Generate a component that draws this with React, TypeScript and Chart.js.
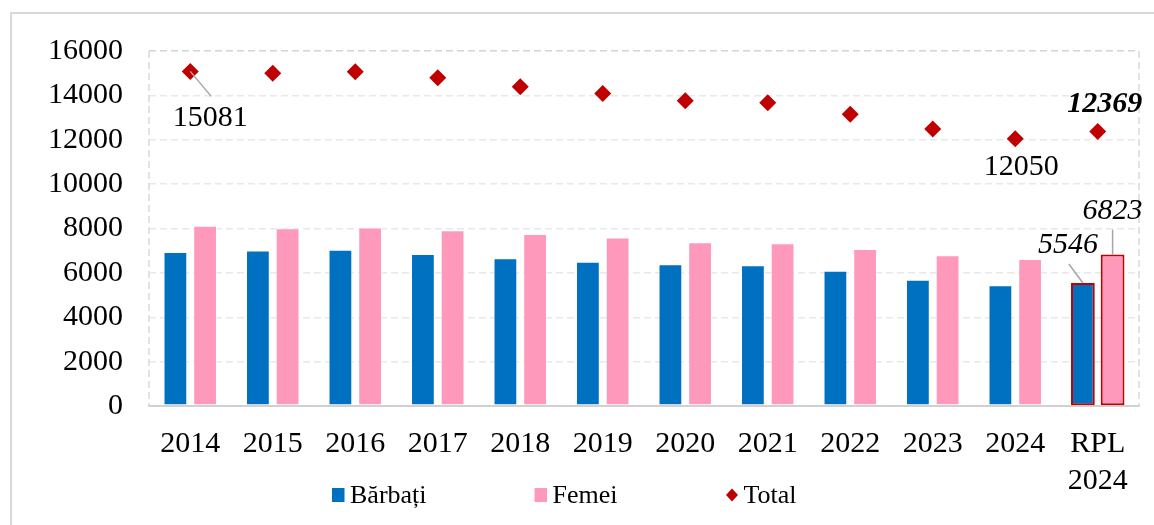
import React, { useEffect, useRef } from 'react';
import { Chart, registerables } from 'chart.js';

Chart.register(...registerables);

const categories: (string | string[])[] = ['2014', '2015', '2016', '2017', '2018', '2019', '2020', '2021', '2022', '2023', '2024', ['RPL', '2024']];
const men = [6940, 7010, 7040, 6850, 6660, 6500, 6390, 6340, 6100, 5690, 5440, 5546];
const women = [8120, 8010, 8040, 7920, 7750, 7600, 7380, 7330, 7080, 6800, 6620, 6823];
const total = [15081, 15000, 15060, 14800, 14390, 14090, 13760, 13670, 13150, 12480, 12050, 12369];
const seriesNames = ['Bărbați', 'Femei', 'Total'];
const yMin = 0;
const yMax = 16000;
const yStep = 2000;

const FONT = "'Liberation Serif', 'Times New Roman', serif";
const BLUE = '#0070C0';
const PINK = '#FF99BB';
const RED = '#C00000';

const W = 1154;
const H = 525;

export default function App() {
  const ref = useRef<HTMLCanvasElement | null>(null);

  useEffect(() => {
    document.body.style.margin = '0';
    const canvas = ref.current;
    if (!canvas) return;
    const last = categories.length - 1;

    const framePlugin = {
      id: 'frame',
      beforeDraw(chart: any) {
        const { ctx } = chart;
        ctx.save();
        ctx.fillStyle = '#fff';
        ctx.fillRect(0, 0, W, H);
        ctx.strokeStyle = '#D9D9D9';
        ctx.lineWidth = 2;
        ctx.strokeRect(11, 13, 1300, 700);
        ctx.restore();
      },
      beforeDatasetsDraw(chart: any) {
        const { ctx, chartArea } = chart;
        ctx.save();
        ctx.strokeStyle = '#D9D9D9';
        ctx.lineWidth = 1.5;
        ctx.setLineDash([7, 4]);
        [chartArea.left, chartArea.right].forEach((x: number) => {
          ctx.beginPath();
          ctx.moveTo(x, chartArea.top);
          ctx.lineTo(x, chartArea.bottom);
          ctx.stroke();
        });
        ctx.restore();
      },
      afterDraw(chart: any) {
        const { ctx } = chart;
        const mMen = chart.getDatasetMeta(0).data;
        const mWomen = chart.getDatasetMeta(1).data;
        const mTot = chart.getDatasetMeta(2).data;
        ctx.save();
        ctx.strokeStyle = '#A6A6A6';
        ctx.lineWidth = 1.5;
        const line = (x1: number, y1: number, x2: number, y2: number) => {
          ctx.beginPath();
          ctx.moveTo(x1, y1);
          ctx.lineTo(x2, y2);
          ctx.stroke();
        };
        const p0 = mTot[0];
        line(p0.x, p0.y, p0.x + 21, p0.y + 25);
        const pm = mMen[last];
        line(pm.x - 14, pm.y - 19, pm.x, pm.y);
        const pw = mWomen[last];
        line(pw.x, pw.y - 25, pw.x, pw.y);

        ctx.fillStyle = '#000';
        ctx.textAlign = 'center';
        ctx.textBaseline = 'middle';
        ctx.font = `30px ${FONT}`;
        ctx.fillText(String(total[0]), p0.x + 20, p0.y + 47);
        const p10 = mTot[last - 1];
        ctx.fillText(String(total[last - 1]), p10.x + 6, p10.y + 28);
        const pl = mTot[last];
        ctx.font = `italic bold 30px ${FONT}`;
        ctx.fillText(String(total[last]), pl.x + 7, pl.y - 27);
        ctx.font = `italic 30px ${FONT}`;
        ctx.fillText(String(women[last]), pw.x, pw.y - 44);
        ctx.fillText(String(men[last]), pm.x - 15, pm.y - 38);

        // legend
        ctx.font = `26px ${FONT}`;
        ctx.textAlign = 'left';
        const ly = 495;
        let x = 332;
        const colors = [BLUE, PINK, RED];
        seriesNames.forEach((name, i) => {
          ctx.fillStyle = colors[i];
          if (i < 2) {
            ctx.fillRect(x, ly - 7, 12.5, 14);
          } else {
            ctx.beginPath();
            ctx.moveTo(x + 0.5, ly);
            ctx.lineTo(x + 6.5, ly - 6.5);
            ctx.lineTo(x + 12.5, ly);
            ctx.lineTo(x + 6.5, ly + 6.5);
            ctx.closePath();
            ctx.fill();
          }
          ctx.fillStyle = '#000';
          ctx.fillText(name, x + 18, ly + 1);
          x += 18 + ctx.measureText(name).width + 108;
        });
        ctx.restore();
      },
    };

    const barBorderColor = () => categories.map((_, i) => (i === last ? RED : 'rgba(255,255,255,0.55)'));
    const barBorderWidth = categories.map((_, i) => (i === last ? 2 : 1));

    const chart = new Chart(canvas, {
      type: 'bar',
      data: {
        labels: categories as any,
        datasets: [
          {
            label: seriesNames[0],
            data: men,
            backgroundColor: BLUE,
            borderColor: barBorderColor(),
            borderWidth: barBorderWidth,
            borderSkipped: false,
            categoryPercentage: 0.72,
            barPercentage: 0.8,
            order: 1,
          } as any,
          {
            label: seriesNames[1],
            data: women,
            backgroundColor: PINK,
            borderColor: barBorderColor(),
            borderWidth: barBorderWidth,
            borderSkipped: false,
            categoryPercentage: 0.72,
            barPercentage: 0.8,
            order: 1,
          } as any,
          {
            type: 'line',
            label: seriesNames[2],
            data: total,
            showLine: false,
            pointStyle: 'rectRot',
            pointRadius: 8.5,
            pointBackgroundColor: RED,
            pointBorderColor: RED,
            pointBorderWidth: 0,
            order: 0,
          } as any,
        ],
      },
      options: {
        animation: false,
        responsive: false,
        layout: { padding: { top: 51, left: 0, right: 15, bottom: 19 } },
        plugins: {
          legend: { display: false },
          tooltip: { enabled: false },
        },
        scales: {
          x: {
            grid: { display: false },
            border: { display: true, color: '#D0D0D0', width: 2 },
            ticks: {
              font: { family: FONT, size: 30, lineHeight: 1.22 },
              color: '#000',
              padding: 12,
              maxRotation: 0,
              autoSkip: false,
            },
            afterFit: (s: any) => {
              s.height = 100;
            },
          },
          y: {
            min: yMin,
            max: yMax,
            ticks: {
              stepSize: yStep,
              font: { family: FONT, size: 30 },
              color: '#000',
              padding: 26,
              callback: (v: any) => String(v),
            },
            grid: {
              drawTicks: false,
              lineWidth: 1.5,
              color: (c: any) => (c.tick && c.tick.value === yMax ? '#D4D4D4' : '#E8E8E8'),
            },
            border: { display: false, dash: [7, 4] },
            afterFit: (s: any) => {
              s.width = 149;
            },
          },
        },
      },
      plugins: [framePlugin],
    });

    return () => chart.destroy();
  }, []);

  return (
    <div style={{ width: W, height: H }}>
      <canvas ref={ref} width={W} height={H} style={{ display: 'block', width: W, height: H }} />
    </div>
  );
}
